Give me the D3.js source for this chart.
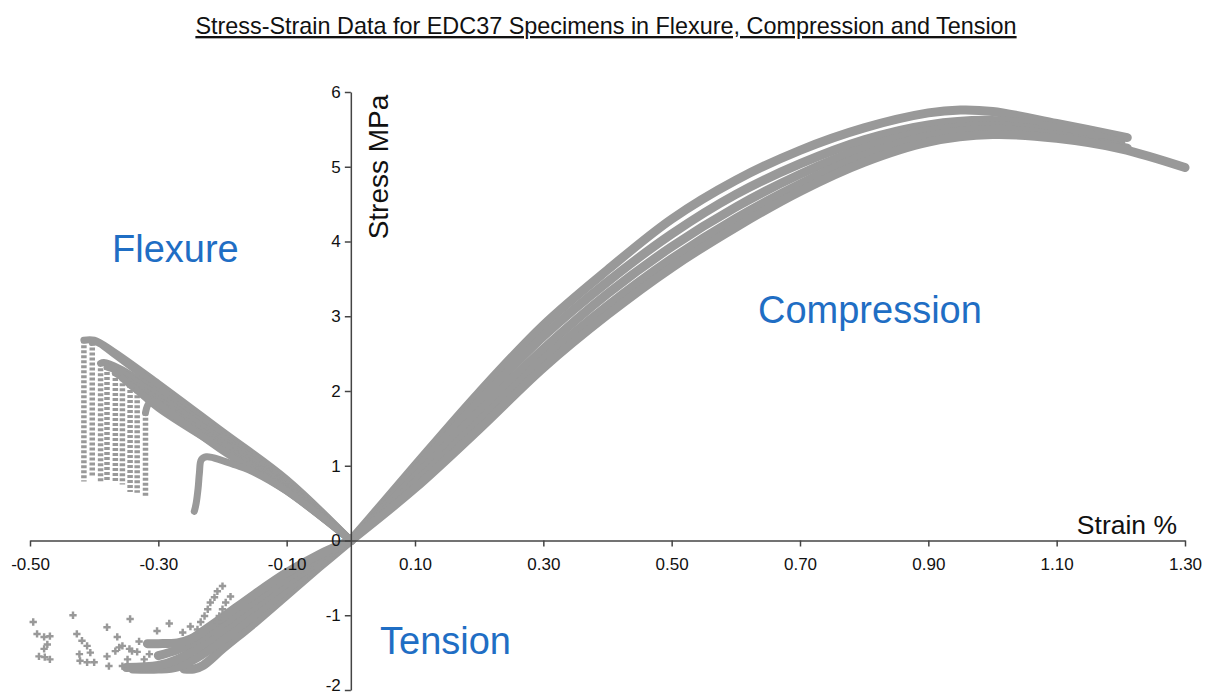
<!DOCTYPE html>
<html>
<head>
<meta charset="utf-8">
<script src="https://cdn.jsdelivr.net/npm/d3@7"></script>
<style>
  html, body { margin: 0; padding: 0; background: #fff; }
  svg { display: block; font-family: "Liberation Sans", Arial, sans-serif; }
</style>
</head>
<body>
<div id="chart"></div>
<script>
// axis ticks
const xTicks = [-0.5, -0.3, -0.1, 0.1, 0.3, 0.5, 0.7, 0.9, 1.1, 1.3];
const yTicks = [-2, -1, 0, 1, 2, 3, 4, 5, 6];

// compression specimens [strain %, stress MPa]
const comp1 = [[0,0],[0.05,0.5],[0.1,1.0],[0.2,1.98],[0.3,2.88],[0.4,3.62],[0.5,4.3],[0.6,4.82],[0.7,5.22],[0.8,5.52],[0.9,5.72],[0.95,5.76],[1.0,5.74],[1.1,5.58],[1.21,5.39]];
const comp2 = [[0,0],[0.1,0.93],[0.2,1.86],[0.3,2.73],[0.4,3.46],[0.5,4.1],[0.6,4.63],[0.7,5.04],[0.8,5.36],[0.9,5.56],[1.0,5.62],[1.1,5.52],[1.2,5.33]];
const comp3 = [[0,0],[0.1,0.85],[0.2,1.72],[0.3,2.56],[0.4,3.3],[0.5,3.93],[0.6,4.46],[0.7,4.9],[0.8,5.25],[0.9,5.48],[1.0,5.55],[1.07,5.5]];
const comp4 = [[0,0],[0.1,0.77],[0.2,1.59],[0.3,2.42],[0.4,3.14],[0.5,3.77],[0.6,4.31],[0.7,4.77],[0.8,5.15],[0.9,5.41],[1.0,5.5],[1.1,5.42],[1.21,5.25]];
const comp5 = [[0,0],[0.1,0.7],[0.2,1.49],[0.3,2.31],[0.4,3.02],[0.5,3.65],[0.6,4.19],[0.7,4.67],[0.8,5.06],[0.9,5.33],[1.0,5.43],[1.1,5.38],[1.2,5.24],[1.3,4.99]];

// flexure specimens: rising part, then drop [strain, from stress, to stress]
const flex1 = [[0,0],[-0.1,0.82],[-0.2,1.46],[-0.3,2.1],[-0.37,2.53],[-0.4,2.68],[-0.416,2.68]];
const flex2 = [[0,0],[-0.1,0.8],[-0.2,1.42],[-0.3,2.05],[-0.37,2.5],[-0.395,2.65],[-0.403,2.65]];
const flex3 = [[0,0],[-0.1,0.77],[-0.2,1.38],[-0.3,1.98],[-0.36,2.3],[-0.385,2.38],[-0.39,2.37]];
const flex4 = [[0,0],[-0.1,0.75],[-0.2,1.34],[-0.3,1.93],[-0.36,2.26],[-0.38,2.32]];
const flex5 = [[0,0],[-0.1,0.73],[-0.2,1.31],[-0.3,1.88],[-0.35,2.15],[-0.367,2.24]];
const flex6 = [[0,0],[-0.1,0.71],[-0.2,1.28],[-0.3,1.84],[-0.345,2.09],[-0.356,2.17]];
const flex7 = [[0,0],[-0.1,0.69],[-0.2,1.25],[-0.3,1.8],[-0.344,2.08]];
const flex8 = [[0,0],[-0.1,0.67],[-0.2,1.22],[-0.3,1.77],[-0.333,2.01]];
const flex9 = [[0,0],[-0.1,0.66],[-0.2,1.2],[-0.28,1.7],[-0.306,1.86],[-0.315,1.83],[-0.32,1.71]];
const flex10 = [[0,0],[-0.1,0.66],[-0.16,0.95],[-0.18,1.01],[-0.2,1.07],[-0.225,1.12],[-0.233,1.08],[-0.236,0.9],[-0.238,0.7],[-0.241,0.5],[-0.244,0.39]];
const flexDrops = [[-0.416,2.68,0.79],[-0.403,2.65,0.85],[-0.39,2.37,0.77],[-0.38,2.32,0.81],[-0.367,2.24,0.77],[-0.356,2.17,0.75],[-0.344,2.08,0.65],[-0.333,2.01,0.64],[-0.32,1.71,0.59]];

// tension specimens
const tens1 = [[0,0],[-0.05,-0.36],[-0.1,-0.73],[-0.15,-1.1],[-0.2,-1.45],[-0.23,-1.67],[-0.245,-1.72],[-0.26,-1.72]];
const tens2 = [[0,0],[-0.05,-0.31],[-0.1,-0.65],[-0.15,-0.99],[-0.2,-1.33],[-0.24,-1.57],[-0.27,-1.69],[-0.3,-1.72],[-0.34,-1.72]];
const tens3 = [[0,0],[-0.05,-0.27],[-0.1,-0.57],[-0.15,-0.88],[-0.2,-1.2],[-0.24,-1.44],[-0.27,-1.59],[-0.3,-1.67],[-0.35,-1.7]];
const tens4 = [[0,0],[-0.05,-0.23],[-0.1,-0.5],[-0.15,-0.8],[-0.2,-1.11],[-0.24,-1.33],[-0.27,-1.46],[-0.3,-1.54]];
const tens5 = [[0,0],[-0.05,-0.19],[-0.1,-0.43],[-0.15,-0.72],[-0.2,-1.03],[-0.23,-1.21],[-0.25,-1.32],[-0.27,-1.37],[-0.3,-1.38],[-0.317,-1.38]];
const tensTailA = [[-0.2,-0.61],[-0.208,-0.68],[-0.2125,-0.76],[-0.219,-0.83],[-0.223,-0.92],[-0.228,-1.01],[-0.234,-1.09],[-0.239,-1.19]];
const tensTailB = [[-0.1875,-0.75],[-0.195,-0.83],[-0.2,-0.92],[-0.205,-1.01],[-0.208,-1.09]];
const tensScatter = [[-0.495,-1.09],[-0.433,-1.0],[-0.489,-1.25],[-0.478,-1.29],[-0.469,-1.28],[-0.473,-1.39],[-0.486,-1.55],[-0.478,-1.45],[-0.477,-1.56],[-0.469,-1.59],
  [-0.427,-1.25],[-0.419,-1.34],[-0.411,-1.41],[-0.423,-1.52],[-0.406,-1.5],[-0.422,-1.61],[-0.411,-1.63],[-0.4,-1.63],[-0.38,-1.16],[-0.38,-1.55],[-0.377,-1.68],
  [-0.364,-1.29],[-0.361,-1.43],[-0.356,-1.41],[-0.367,-1.48],[-0.344,-1.05],[-0.345,-1.45],[-0.341,-1.48],[-0.333,-1.49],[-0.348,-1.59],[-0.356,-1.68],
  [-0.33,-1.35],[-0.322,-1.59],[-0.314,-1.52],[-0.302,-1.21],[-0.283,-1.11],[-0.262,-1.23],[-0.25,-1.15]];

const compression = [comp1, comp2, comp3, comp4, comp5];
const flexure = [flex1, flex2, flex3, flex4, flex5, flex6, flex7, flex8, flex9, flex10];
const tension = [tens1, tens2, tens3, tens4, tens5];

const W = 1210, H = 695;
const grey = "#999999";
const blue = "#1f6ec4";

const svg = d3.select("#chart").append("svg")
  .attr("width", W)
  .attr("height", H);

const x = d3.scaleLinear().domain([-0.5, 1.3]).range([30, 1185]);
const y = d3.scaleLinear().domain([-2, 6]).range([690, 92]);

// title
svg.append("text")
  .attr("x", 606)
  .attr("y", 34)
  .attr("text-anchor", "middle")
  .style("font-size", "23.4px")
  .style("text-decoration", "underline")
  .style("fill", "#111")
  .text("Stress-Strain Data for EDC37 Specimens in Flexure, Compression and Tension");

const line = d3.line()
  .x(d => x(d[0]))
  .y(d => y(d[1]))
  .curve(d3.curveCatmullRom.alpha(0.5));

const plot = svg.append("g");

// flexure drops (dotted markers)
plot.selectAll(".drop")
  .data(flexDrops)
  .enter().append("line")
  .attr("class", "drop")
  .attr("x1", d => x(d[0]))
  .attr("x2", d => x(d[0]))
  .attr("y1", d => y(d[1]))
  .attr("y2", d => y(d[2]))
  .attr("stroke", grey)
  .attr("stroke-width", 5.5)
  .attr("stroke-dasharray", "3,2");

function drawCurves(data, width) {
  plot.append("g")
    .selectAll("path")
    .data(data)
    .enter().append("path")
    .attr("d", line)
    .attr("fill", "none")
    .attr("stroke", grey)
    .attr("stroke-width", width)
    .attr("stroke-linecap", "round")
    .attr("stroke-linejoin", "round");
}

drawCurves(compression, 9);
drawCurves(flexure, 7);
drawCurves(tension, 9);

// scattered tension markers
const cross = d3.symbol().type(d3.symbolCross).size(30);
plot.append("g")
  .selectAll("path")
  .data(tensScatter.concat(tensTailA, tensTailB))
  .enter().append("path")
  .attr("transform", d => `translate(${x(d[0])},${y(d[1])})`)
  .attr("d", cross)
  .attr("fill", grey);

// axes
const xAxis = svg.append("g")
  .attr("transform", `translate(0,${y(0)})`)
  .call(d3.axisBottom(x).tickValues(xTicks).tickSize(6).tickSizeOuter(0).tickFormat(d => d.toFixed(2)));
xAxis.select(".domain").attr("stroke", "#444").attr("stroke-width", 1.5);
xAxis.selectAll(".tick line").attr("stroke", "#444").attr("stroke-width", 1.5);
xAxis.selectAll(".tick text")
  .attr("dy", "1.2em")
  .style("font-size", "17px")
  .style("fill", "#111");

const yAxis = svg.append("g")
  .attr("transform", `translate(${x(0)},0)`)
  .call(d3.axisLeft(y).tickValues(yTicks).tickSize(6).tickSizeOuter(0).tickFormat(d => String(d)));
yAxis.select(".domain").attr("stroke", "#444").attr("stroke-width", 1.5);
yAxis.selectAll(".tick line").attr("stroke", "#444").attr("stroke-width", 1.5);
yAxis.selectAll(".tick text")
  .attr("x", -10)
  .attr("dy", d => d === -2 ? "0em" : "0.32em")
  .style("font-size", "17px")
  .style("fill", "#111");

// axis titles
svg.append("text")
  .attr("x", 1177)
  .attr("y", 534)
  .attr("text-anchor", "end")
  .style("font-size", "26.5px")
  .style("fill", "#111")
  .text("Strain %");

svg.append("text")
  .attr("transform", "translate(388,167) rotate(-90)")
  .attr("text-anchor", "middle")
  .style("font-size", "28px")
  .style("fill", "#111")
  .text("Stress MPa");

// region labels
const regions = [
  { label: "Flexure", px: 112, py: 262 },
  { label: "Compression", px: 758, py: 323 },
  { label: "Tension", px: 380, py: 654 }
];
svg.selectAll(".region")
  .data(regions)
  .enter().append("text")
  .attr("class", "region")
  .attr("x", d => d.px)
  .attr("y", d => d.py)
  .style("font-size", "38px")
  .style("fill", blue)
  .text(d => d.label);
</script>
</body>
</html>
